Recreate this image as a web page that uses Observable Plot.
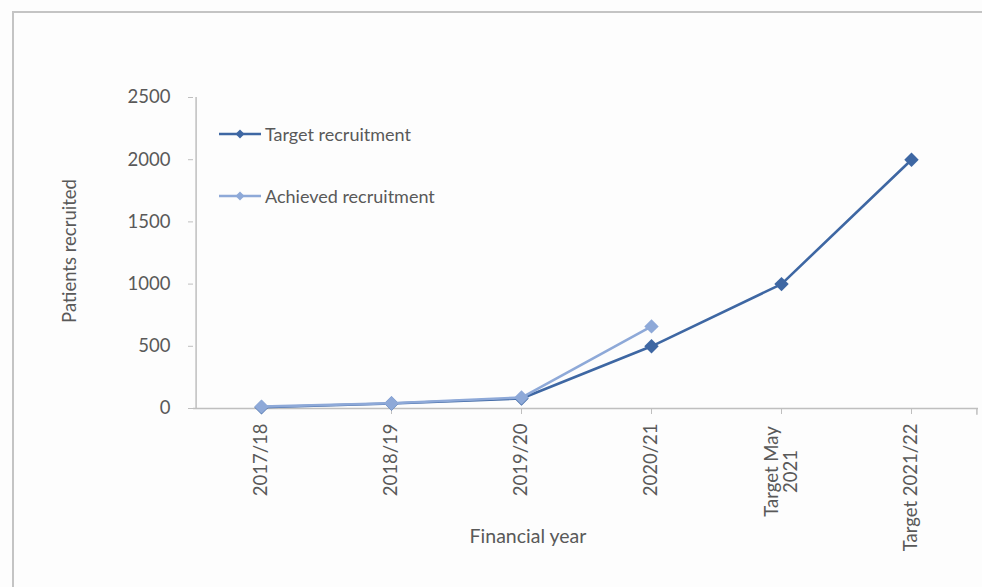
<!DOCTYPE html>
<html>
<head>
<meta charset="utf-8">
<script src="https://cdn.jsdelivr.net/npm/d3@7"></script>
<script src="https://cdn.jsdelivr.net/npm/@observablehq/plot@0.6"></script>
<style>
  html, body { margin: 0; padding: 0; background: #fdfdfd; }
  #wrap { position: relative; width: 982px; height: 587px; overflow: hidden; background: #fdfdfd; }
  #frame { position: absolute; left: 12px; top: 11px; width: 1000px; height: 600px;
           border-left: 2px solid #c4c4c4; border-top: 2px solid #c4c4c4; box-sizing: border-box; }
  #chart { position: absolute; left: 0; top: 0; }
  #legend { position: absolute; left: 218px; top: 122px; font-family: Lato, sans-serif; font-size: 18px; color: #595959; }
  .item { display: flex; align-items: center; height: 24px; margin-bottom: 38px; }
  .item svg { margin-right: 3px; }
</style>
</head>
<body>
<div id="wrap">
  <div id="frame"></div>
  <div id="chart"></div>
  <div id="legend"></div>
</div>
<script>
const categories = ["2017/18", "2018/19", "2019/20", "2020/21", "Target May\n2021", "Target 2021/22"];
const targetValues = [10, 40, 80, 500, 1000, 2000];
const achievedCategories = ["2017/18", "2018/19", "2019/20", "2020/21"];
const achievedValues = [15, 42, 88, 660];
const yTicks = [0, 500, 1000, 1500, 2000, 2500];
const seriesNames = ["Target recruitment", "Achieved recruitment"];
const seriesColors = ["#3e67a3", "#8ea9d8"];

const target = categories.map((c, i) => ({cat: c, value: targetValues[i]}));
const achieved = achievedCategories.map((c, i) => ({cat: c, value: achievedValues[i]}));
const multiLine = categories.filter(c => c.includes("\n"));

const textColor = "#595959";
const axisColor = "#bfbfbf";
const fs = 18.5;

const plot = Plot.plot({
  width: 982,
  height: 587,
  marginLeft: 193,
  marginRight: 4,
  marginTop: 97,
  marginBottom: 179,
  style: {background: "transparent", fontFamily: "Lato, sans-serif", color: textColor, overflow: "visible"},
  x: {type: "point", domain: categories, padding: 0.5},
  y: {domain: [0, 2500]},
  marks: [
    Plot.ruleX([categories[0]], {y1: 0, y2: 2500, dx: -65.4, stroke: axisColor, strokeWidth: 1.5}),
    Plot.ruleY([0], {stroke: axisColor, strokeWidth: 1.5}),
    Plot.ruleX([categories[categories.length - 1]], {y1: 0, y2: -55, dx: 65.4, stroke: axisColor, strokeWidth: 1.5}),
    Plot.axisY({ticks: yTicks, tickSize: 5, tickPadding: 18, stroke: axisColor, fontSize: fs,
      fill: textColor, label: null, tickFormat: d => String(d)}),
    Plot.axisX({tickSize: 6, tickPadding: 9, stroke: axisColor, tickRotate: -90, fontSize: fs,
      fill: textColor, label: null, tickFormat: d => d.includes("\n") ? "" : d}),
    Plot.text(multiLine, {x: d => d, y: 0, dy: 63, rotate: -90, textAnchor: "middle", lineAnchor: "middle",
      lineHeight: 1.0, fontSize: fs, fill: textColor}),
    Plot.line(target, {x: "cat", y: "value", stroke: seriesColors[0], strokeWidth: 2.6}),
    Plot.dot(target, {x: "cat", y: "value", symbol: "diamond2", r: 6.5, fill: seriesColors[0]}),
    Plot.line(achieved, {x: "cat", y: "value", stroke: seriesColors[1], strokeWidth: 2.6}),
    Plot.dot(achieved, {x: "cat", y: "value", symbol: "diamond2", r: 6.5, fill: seriesColors[1]}),
    Plot.text(["Financial year"], {frameAnchor: "bottom", lineAnchor: "middle", dx: -58, dy: 128,
      fontSize: 19.5, fill: textColor}),
    Plot.text(["Patients recruited"], {frameAnchor: "left", textAnchor: "middle", dx: -123, dy: -2, rotate: -90,
      fontSize: fs, fill: textColor, style: {letterSpacing: "1px"}})
  ]
});
document.getElementById("chart").appendChild(plot);

// Legend
const legend = document.getElementById("legend");
seriesNames.forEach((name, i) => {
  const item = document.createElement("div");
  item.className = "item";
  item.innerHTML = `<svg width="44" height="12"><line x1="1" x2="43" y1="6" y2="6" stroke="${seriesColors[i]}" stroke-width="2.4"/>
    <path d="M22,1.5 L26.5,6 L22,10.5 L17.5,6 Z" fill="${seriesColors[i]}"/></svg><span>${name}</span>`;
  legend.appendChild(item);
});
</script>
</body>
</html>
